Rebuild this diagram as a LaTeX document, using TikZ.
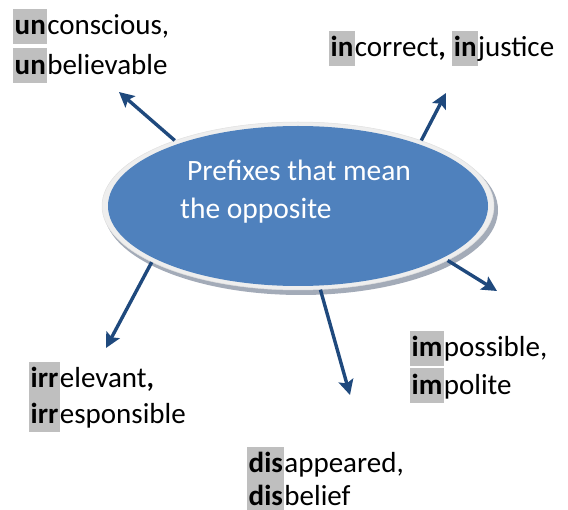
\documentclass[tikz,border=0pt]{standalone}
\usepackage{fontspec}
\setmainfont{Carlito}
\usetikzlibrary{shapes.geometric,arrows.meta}
\definecolor{blfill}{HTML}{4F81BD}
\definecolor{arr}{HTML}{1F497D}
\definecolor{hlgray}{HTML}{BFBFBF}
\definecolor{rimcol}{HTML}{EEEEEE}
\definecolor{shad}{HTML}{A3ABB8}
\newcommand\pfx[1]{{\setlength{\fboxsep}{0pt}\colorbox{hlgray}{\rule[-9pt]{0pt}{35pt}\hspace{1.5pt}\textbf{#1}\hspace{1.5pt}}}}
\newcommand\mlines[1]{\begin{tabular}[t]{@{}l@{}}#1\end{tabular}}
\tikzset{
  labeltext/.style={anchor=base west, inner sep=0pt, font=\fontsize{29pt}{37pt}\selectfont},
  arrowline/.style={draw=arr, line width=3.4pt, -{Stealth[length=15pt,width=15pt,inset=3pt]}},
}
\begin{document}
\begin{tikzpicture}[x=1pt,y=-1pt]
\useasboundingbox (0,0) rectangle (568,510);
% shadow of the disc
\fill[shad] (301,210) ellipse [x radius=197pt, y radius=85pt];
% rim and disc
\node[ellipse, fill=rimcol, draw=black!12, line width=0.5pt, minimum width=392pt, minimum height=168pt, inner sep=0pt] (ell) at (298,206) {};
\node[ellipse, fill=blfill, minimum width=380pt, minimum height=160pt, inner sep=0pt] (disc) at (298,206) {};
\node[labeltext, text=white, font=\fontsize{29.5pt}{37pt}\selectfont] (title) at (180,181) {\mlines{\hspace*{7pt}Prefixes that mean\\[1pt] the opposite}};
% labels
\node[labeltext] (un) at (13,35) {\mlines{\pfx{un}conscious,\\[2pt] \pfx{un}believable}};
\node[labeltext] (in) at (329,57) {\pfx{in}correct\textbf{,} \pfx{in}justice};
\node[labeltext] (im) at (410,357) {\mlines{\pfx{im}possible,\\ \pfx{im}polite}};
\node[labeltext] (irr) at (29,388) {\mlines{\pfx{irr}elevant\textbf{,}\\[-2pt] \pfx{irr}esponsible}};
\node[labeltext] (dis) at (247,473) {\mlines{\pfx{dis}appeared,\\[-5pt] \pfx{dis}belief}};
% arrow ends
\coordinate (t1) at (119,92);
\coordinate (t2) at (446,93);
\coordinate (t3) at (497,291);
\coordinate (t4) at (106,348);
\coordinate (t5) at (350,395);
\draw[arrowline] (ell.152.3) -- (t1);
\draw[arrowline] (ell.28) -- (t2);
\draw[arrowline] (ell.-20) -- (t3);
\draw[arrowline] (ell.201.7) -- (t4);
\draw[arrowline] (ell.-75) -- (t5);
\end{tikzpicture}
\end{document}
